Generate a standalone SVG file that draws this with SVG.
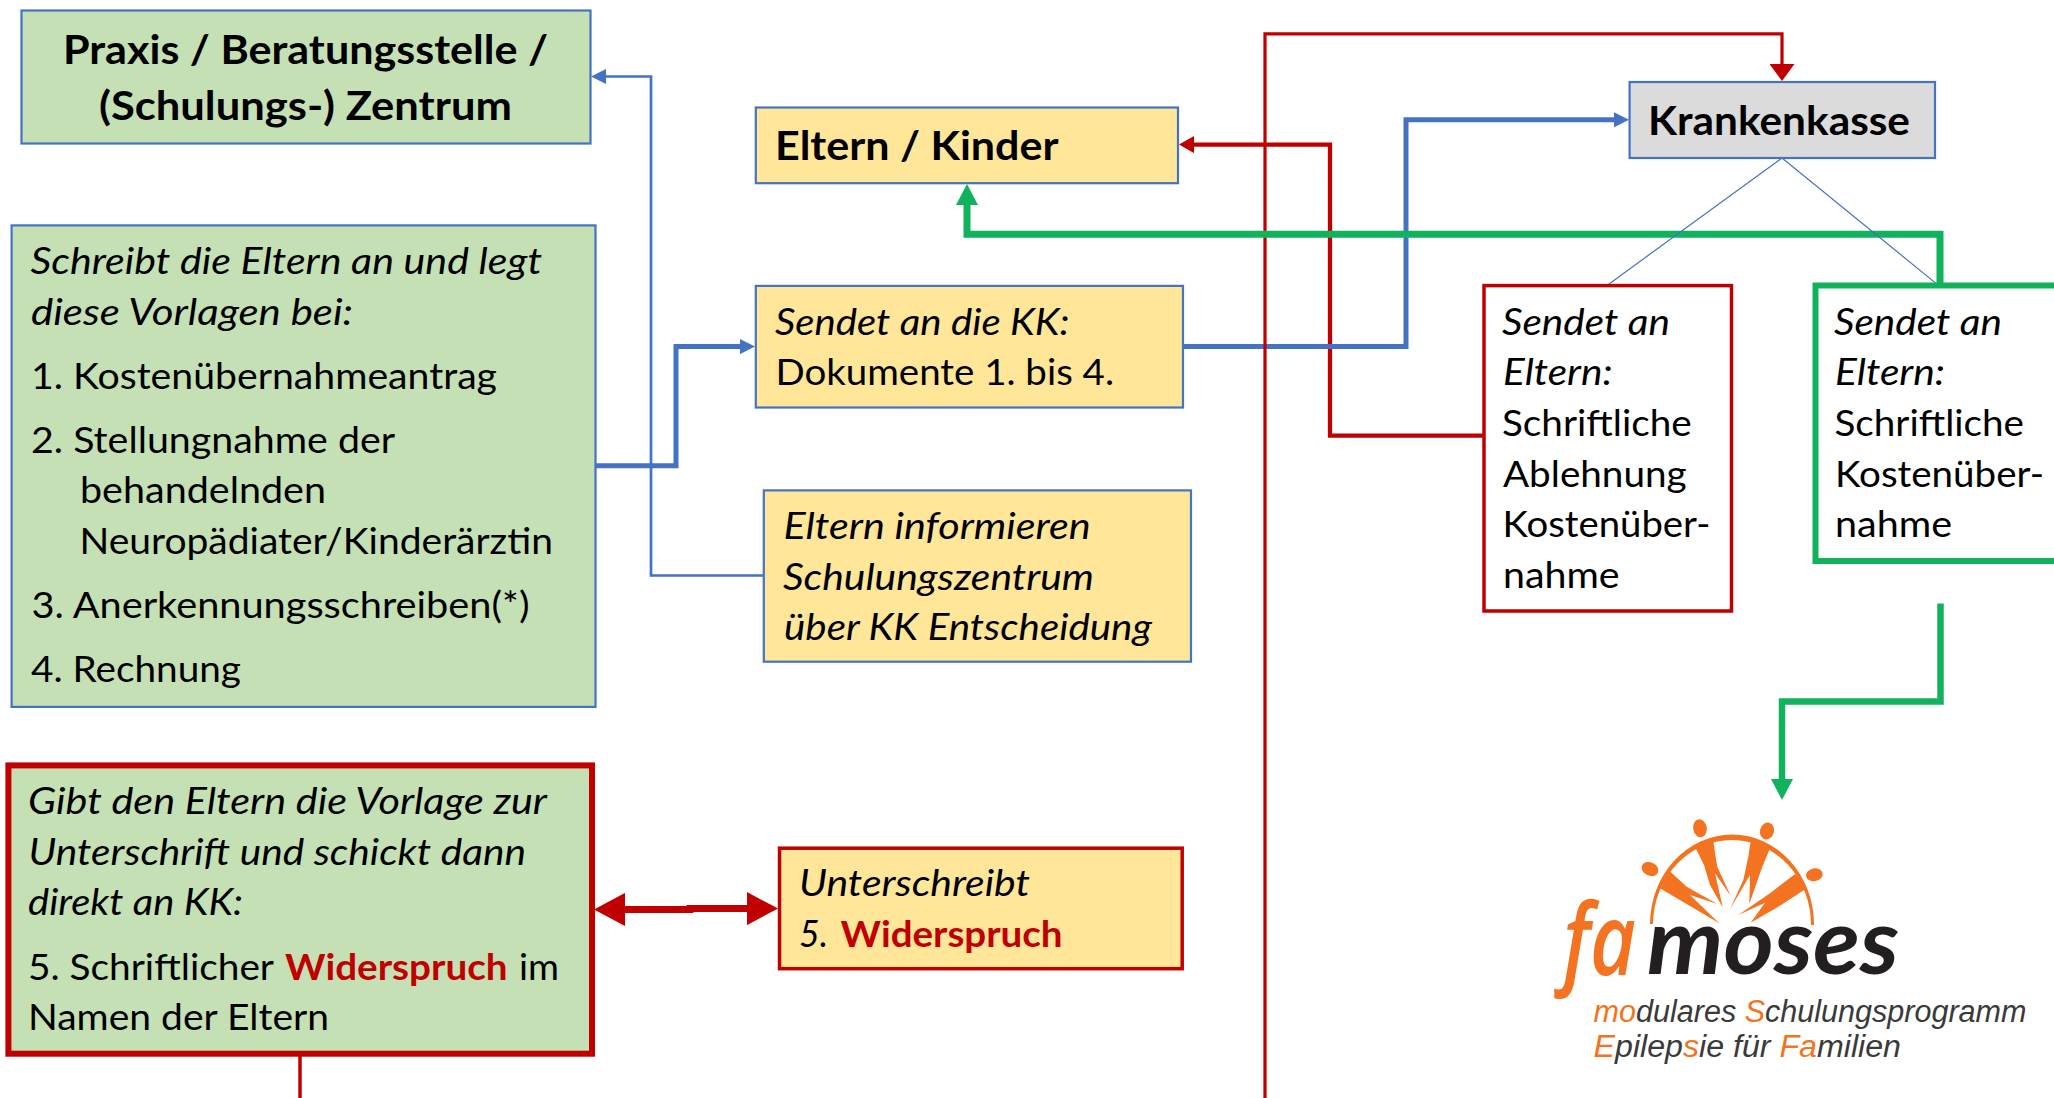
<svg xmlns="http://www.w3.org/2000/svg" width="2054" height="1098" viewBox="0 0 2054 1098">
<style>
.t{font-family:"Lato","Carlito","Liberation Sans",sans-serif;font-size:36px;fill:#000}
.i{font-style:italic}
.h{font-size:40px;font-weight:700}
.red{fill:#C00000;font-weight:700}
.gb{fill:#C5E0B4}.yb{fill:#FFE699}.kb{fill:#DBDBDB}.wb{fill:#fff}
.sb{stroke:#4472C4;stroke-width:2.2}
.sr{stroke:#C00000;stroke-width:3.5}
.c{fill:none;stroke-linejoin:miter}
.cb{stroke:#4472C4}.cr{stroke:#C00000}.cg{stroke:#10B25C}
.o{fill:#F47320}.k{fill:#231F20}.s{fill:#3A3A3A}
.l1{font-family:"Open Sans","Lato",sans-serif;font-style:italic;font-weight:600}
.l2{font-family:"Lato","Open Sans",sans-serif;font-style:italic;font-weight:700}
.l3{font-family:"Liberation Sans","Lato",sans-serif;font-style:italic}
</style>
<defs>
<marker id="ab" markerUnits="userSpaceOnUse" markerWidth="15" markerHeight="15" refX="0" refY="7.5" orient="auto"><polygon points="0,0 15,7.5 0,15" fill="#4472C4"/></marker>
<marker id="art" markerUnits="userSpaceOnUse" markerWidth="17" markerHeight="25" refX="0" refY="12.5" orient="auto"><polygon points="0,0 17,12.5 0,25" fill="#C00000"/></marker>
<marker id="are" markerUnits="userSpaceOnUse" markerWidth="15" markerHeight="17" refX="0" refY="8.5" orient="auto"><polygon points="0,0 15,8.5 0,17" fill="#C00000"/></marker>
<marker id="ard" markerUnits="userSpaceOnUse" markerWidth="31" markerHeight="33" refX="0" refY="16.5" orient="auto-start-reverse"><polygon points="0,0 31,16.5 0,33" fill="#C00000"/></marker>
<marker id="ag" markerUnits="userSpaceOnUse" markerWidth="21" markerHeight="22" refX="0" refY="11" orient="auto"><polygon points="0,0 21,11 0,22" fill="#10B25C"/></marker>
</defs>

<g id="connectors">
<path class="c cr" stroke-width="3.5" d="M300 1056V1098"/>
<path class="c cr" stroke-width="4.3" d="M1483 435.7H1330V144.6H1194" marker-end="url(#are)"/>
<path class="c cb" stroke-width="5" d="M595 465.7H676V346.6H740" marker-end="url(#ab)"/>
<path class="c cb" stroke-width="2.7" d="M763 575.5H651V76.5H606" marker-end="url(#ab)"/>
<path class="c cb" stroke-width="5" d="M1183 346.6H1406V119.8H1614" marker-end="url(#ab)"/>
<path class="c cr" stroke-width="3.2" d="M1265 1098V33.8H1782V64" marker-end="url(#art)"/>
<path class="c cg" stroke-width="7" d="M1940 284V234.3H967V205" marker-end="url(#ag)"/>
<path class="c cb" stroke-width="1.2" d="M1782 158L1607 285.4M1782 158L1937.5 284.6"/>
<path class="c cg" stroke-width="6.5" d="M1940.5 603.5V701.5H1782V779" marker-end="url(#ag)"/>
<path class="c cr" stroke-width="7" d="M625 909.4H690V908.6H747" marker-start="url(#ard)" marker-end="url(#ard)"/>
</g>

<g id="node-praxis">
<rect class="gb sb" x="21.5" y="10.5" width="569" height="133"/>
<text class="t h" x="63" y="63.6" textLength="485" lengthAdjust="spacingAndGlyphs">Praxis / Beratungsstelle /</text>
<text class="t h" x="99" y="119.6" textLength="413" lengthAdjust="spacingAndGlyphs">(Schulungs-) Zentrum</text>
</g>

<g id="node-schreibt">
<rect class="gb sb" x="11.6" y="225.4" width="583.9" height="481.5"/>
<text class="t i" x="30.5" y="273.6" textLength="511.5" lengthAdjust="spacingAndGlyphs">Schreibt die Eltern an und legt</text>
<text class="t i" x="31" y="325" textLength="322" lengthAdjust="spacingAndGlyphs">diese Vorlagen bei:</text>
<text class="t" x="31" y="388.6" textLength="466" lengthAdjust="spacingAndGlyphs">1. Kostenübernahmeantrag</text>
<text class="t" x="31" y="452.9" textLength="364" lengthAdjust="spacingAndGlyphs">2. Stellungnahme der</text>
<text class="t" x="80" y="502.5" textLength="246" lengthAdjust="spacingAndGlyphs">behandelnden</text>
<text class="t" x="79.5" y="553.6" textLength="473.5" lengthAdjust="spacingAndGlyphs">Neuropädiater/Kinderärztin</text>
<text class="t" x="31.5" y="617.6" textLength="498" lengthAdjust="spacingAndGlyphs">3. Anerkennungsschreiben(*)</text>
<text class="t" x="31" y="681.6" textLength="210" lengthAdjust="spacingAndGlyphs">4. Rechnung</text>
</g>

<g id="node-widerspruch">
<rect x="8.4" y="765.4" width="583.6" height="288.3" fill="#C5E0B4" stroke="#C00000" stroke-width="6"/>
<text class="t i" x="28" y="813.5" textLength="519" lengthAdjust="spacingAndGlyphs">Gibt den Eltern die Vorlage zur</text>
<text class="t i" x="28.5" y="864.6" textLength="497.5" lengthAdjust="spacingAndGlyphs">Unterschrift und schickt dann</text>
<text class="t i" x="28" y="914.5" textLength="215" lengthAdjust="spacingAndGlyphs">direkt an KK:</text>
<text class="t" x="28" y="980" textLength="246" lengthAdjust="spacingAndGlyphs">5. Schriftlicher</text>
<text class="t red" x="285" y="980" textLength="222.6" lengthAdjust="spacingAndGlyphs">Widerspruch</text>
<text class="t" x="519" y="980" textLength="40" lengthAdjust="spacingAndGlyphs">im</text>
<text class="t" x="28" y="1030" textLength="301" lengthAdjust="spacingAndGlyphs">Namen der Eltern</text>
</g>

<g id="node-eltern">
<rect class="yb sb" x="755.8" y="107.5" width="422.2" height="75.7"/>
<text class="t h" x="775" y="160" textLength="283.5" lengthAdjust="spacingAndGlyphs">Eltern / Kinder</text>
</g>

<g id="node-sendet-kk">
<rect class="yb sb" x="755.8" y="285.9" width="427.2" height="121.6"/>
<text class="t i" x="775" y="334.5" textLength="294.6" lengthAdjust="spacingAndGlyphs">Sendet an die KK:</text>
<text class="t" x="775.5" y="385" textLength="338.5" lengthAdjust="spacingAndGlyphs">Dokumente 1. bis 4.</text>
</g>

<g id="node-informieren">
<rect class="yb sb" x="763.8" y="490.4" width="427.2" height="171.3"/>
<text class="t i" x="783.5" y="539" textLength="307.1" lengthAdjust="spacingAndGlyphs">Eltern informieren</text>
<text class="t i" x="783" y="589.7" textLength="311" lengthAdjust="spacingAndGlyphs">Schulungszentrum</text>
<text class="t i" x="784" y="640" textLength="368" lengthAdjust="spacingAndGlyphs">über KK Entscheidung</text>
</g>

<g id="node-unterschreibt">
<rect class="yb sr" x="779.5" y="848.2" width="402.7" height="120.5"/>
<text class="t i" x="799" y="896" textLength="231" lengthAdjust="spacingAndGlyphs">Unterschreibt</text>
<text class="t i" x="799" y="947" textLength="29" lengthAdjust="spacingAndGlyphs">5.</text>
<text class="t red" x="840.6" y="947" textLength="222" lengthAdjust="spacingAndGlyphs">Widerspruch</text>
</g>

<g id="node-krankenkasse">
<rect class="kb sb" x="1629.6" y="82" width="305.4" height="76"/>
<text class="t h" x="1648" y="135.4" textLength="262" lengthAdjust="spacingAndGlyphs">Krankenkasse</text>
</g>

<g id="node-ablehnung">
<rect class="wb sr" x="1484" y="285.6" width="247.5" height="325.4"/>
<text class="t i" x="1502" y="335" textLength="168" lengthAdjust="spacingAndGlyphs">Sendet an</text>
<text class="t i" x="1503" y="384.6" textLength="109.5" lengthAdjust="spacingAndGlyphs">Eltern:</text>
<text class="t" x="1502" y="435.6" textLength="189.7" lengthAdjust="spacingAndGlyphs">Schriftliche</text>
<text class="t" x="1503" y="487" textLength="183.7" lengthAdjust="spacingAndGlyphs">Ablehnung</text>
<text class="t" x="1502.5" y="537" textLength="208" lengthAdjust="spacingAndGlyphs">Kostenüber-</text>
<text class="t" x="1503" y="587.5" textLength="116.6" lengthAdjust="spacingAndGlyphs">nahme</text>
</g>

<g id="node-zusage">
<rect x="1815.5" y="285.5" width="250" height="275.5" fill="#fff" stroke="#10B25C" stroke-width="6"/>
<text class="t i" x="1834" y="335" textLength="168" lengthAdjust="spacingAndGlyphs">Sendet an</text>
<text class="t i" x="1835" y="384.6" textLength="110" lengthAdjust="spacingAndGlyphs">Eltern:</text>
<text class="t" x="1834.5" y="435.6" textLength="189.5" lengthAdjust="spacingAndGlyphs">Schriftliche</text>
<text class="t" x="1835" y="487" textLength="209" lengthAdjust="spacingAndGlyphs">Kostenüber-</text>
<text class="t" x="1835" y="537" textLength="117" lengthAdjust="spacingAndGlyphs">nahme</text>
</g>

<g id="node-logo">
<path class="o" d="M1650 924A82 90 0 0 1 1814 925H1811A79 84.500 0 0 0 1653 924Z"/>
<ellipse class="o" cx="1700" cy="828.3" rx="6.8" ry="9" transform="rotate(-10 1700 828.3)"/>
<ellipse class="o" cx="1767" cy="831" rx="7" ry="8.5" transform="rotate(15 1767 831)"/>
<ellipse class="o" cx="1650" cy="869" rx="8.7" ry="6.7" transform="rotate(25 1650 869)"/>
<ellipse class="o" cx="1814.3" cy="874.7" rx="8.4" ry="6.4" transform="rotate(-12 1814.3 874.7)"/>
<polygon class="o" points="1695,846.7 1713.3,840 1715,853.3 1717.3,866.7 1730.7,896 1715,873.3 1722.7,907.3 1710,885 1704,865"/>
<polygon class="o" points="1750.7,840.7 1770,848.3 1761.7,868.3 1749.3,904 1750,875 1730,909.3 1743.3,880 1748.300,856.7"/>
<polygon class="o" points="1669.3,870.7 1686.7,886.7 1717.3,904 1690,895 1719.3,923.3 1688.3,905 1658.3,887.3"/>
<polygon class="o" points="1795,874 1770,893.3 1738.3,915 1765,902.700 1750.7,922.7 1778.3,906.7 1806.7,888.3"/>
<text class="l1 o" x="1563" y="975" font-size="100" textLength="73" lengthAdjust="spacingAndGlyphs">fa</text>
<text class="l2 k" x="1647" y="974" font-size="91" textLength="252" lengthAdjust="spacingAndGlyphs">moses</text>
<text class="l3 s" x="1593.6" y="1021.5" font-size="31" textLength="432.9" lengthAdjust="spacingAndGlyphs"><tspan class="o">mo</tspan>dulares <tspan class="o">S</tspan>chulungsprogramm</text>
<text class="l3 s" x="1593.6" y="1057" font-size="31" textLength="307.4" lengthAdjust="spacingAndGlyphs"><tspan class="o">E</tspan>pilep<tspan class="o">s</tspan>ie für <tspan class="o">Fa</tspan>milien</text>
</g>
</svg>
